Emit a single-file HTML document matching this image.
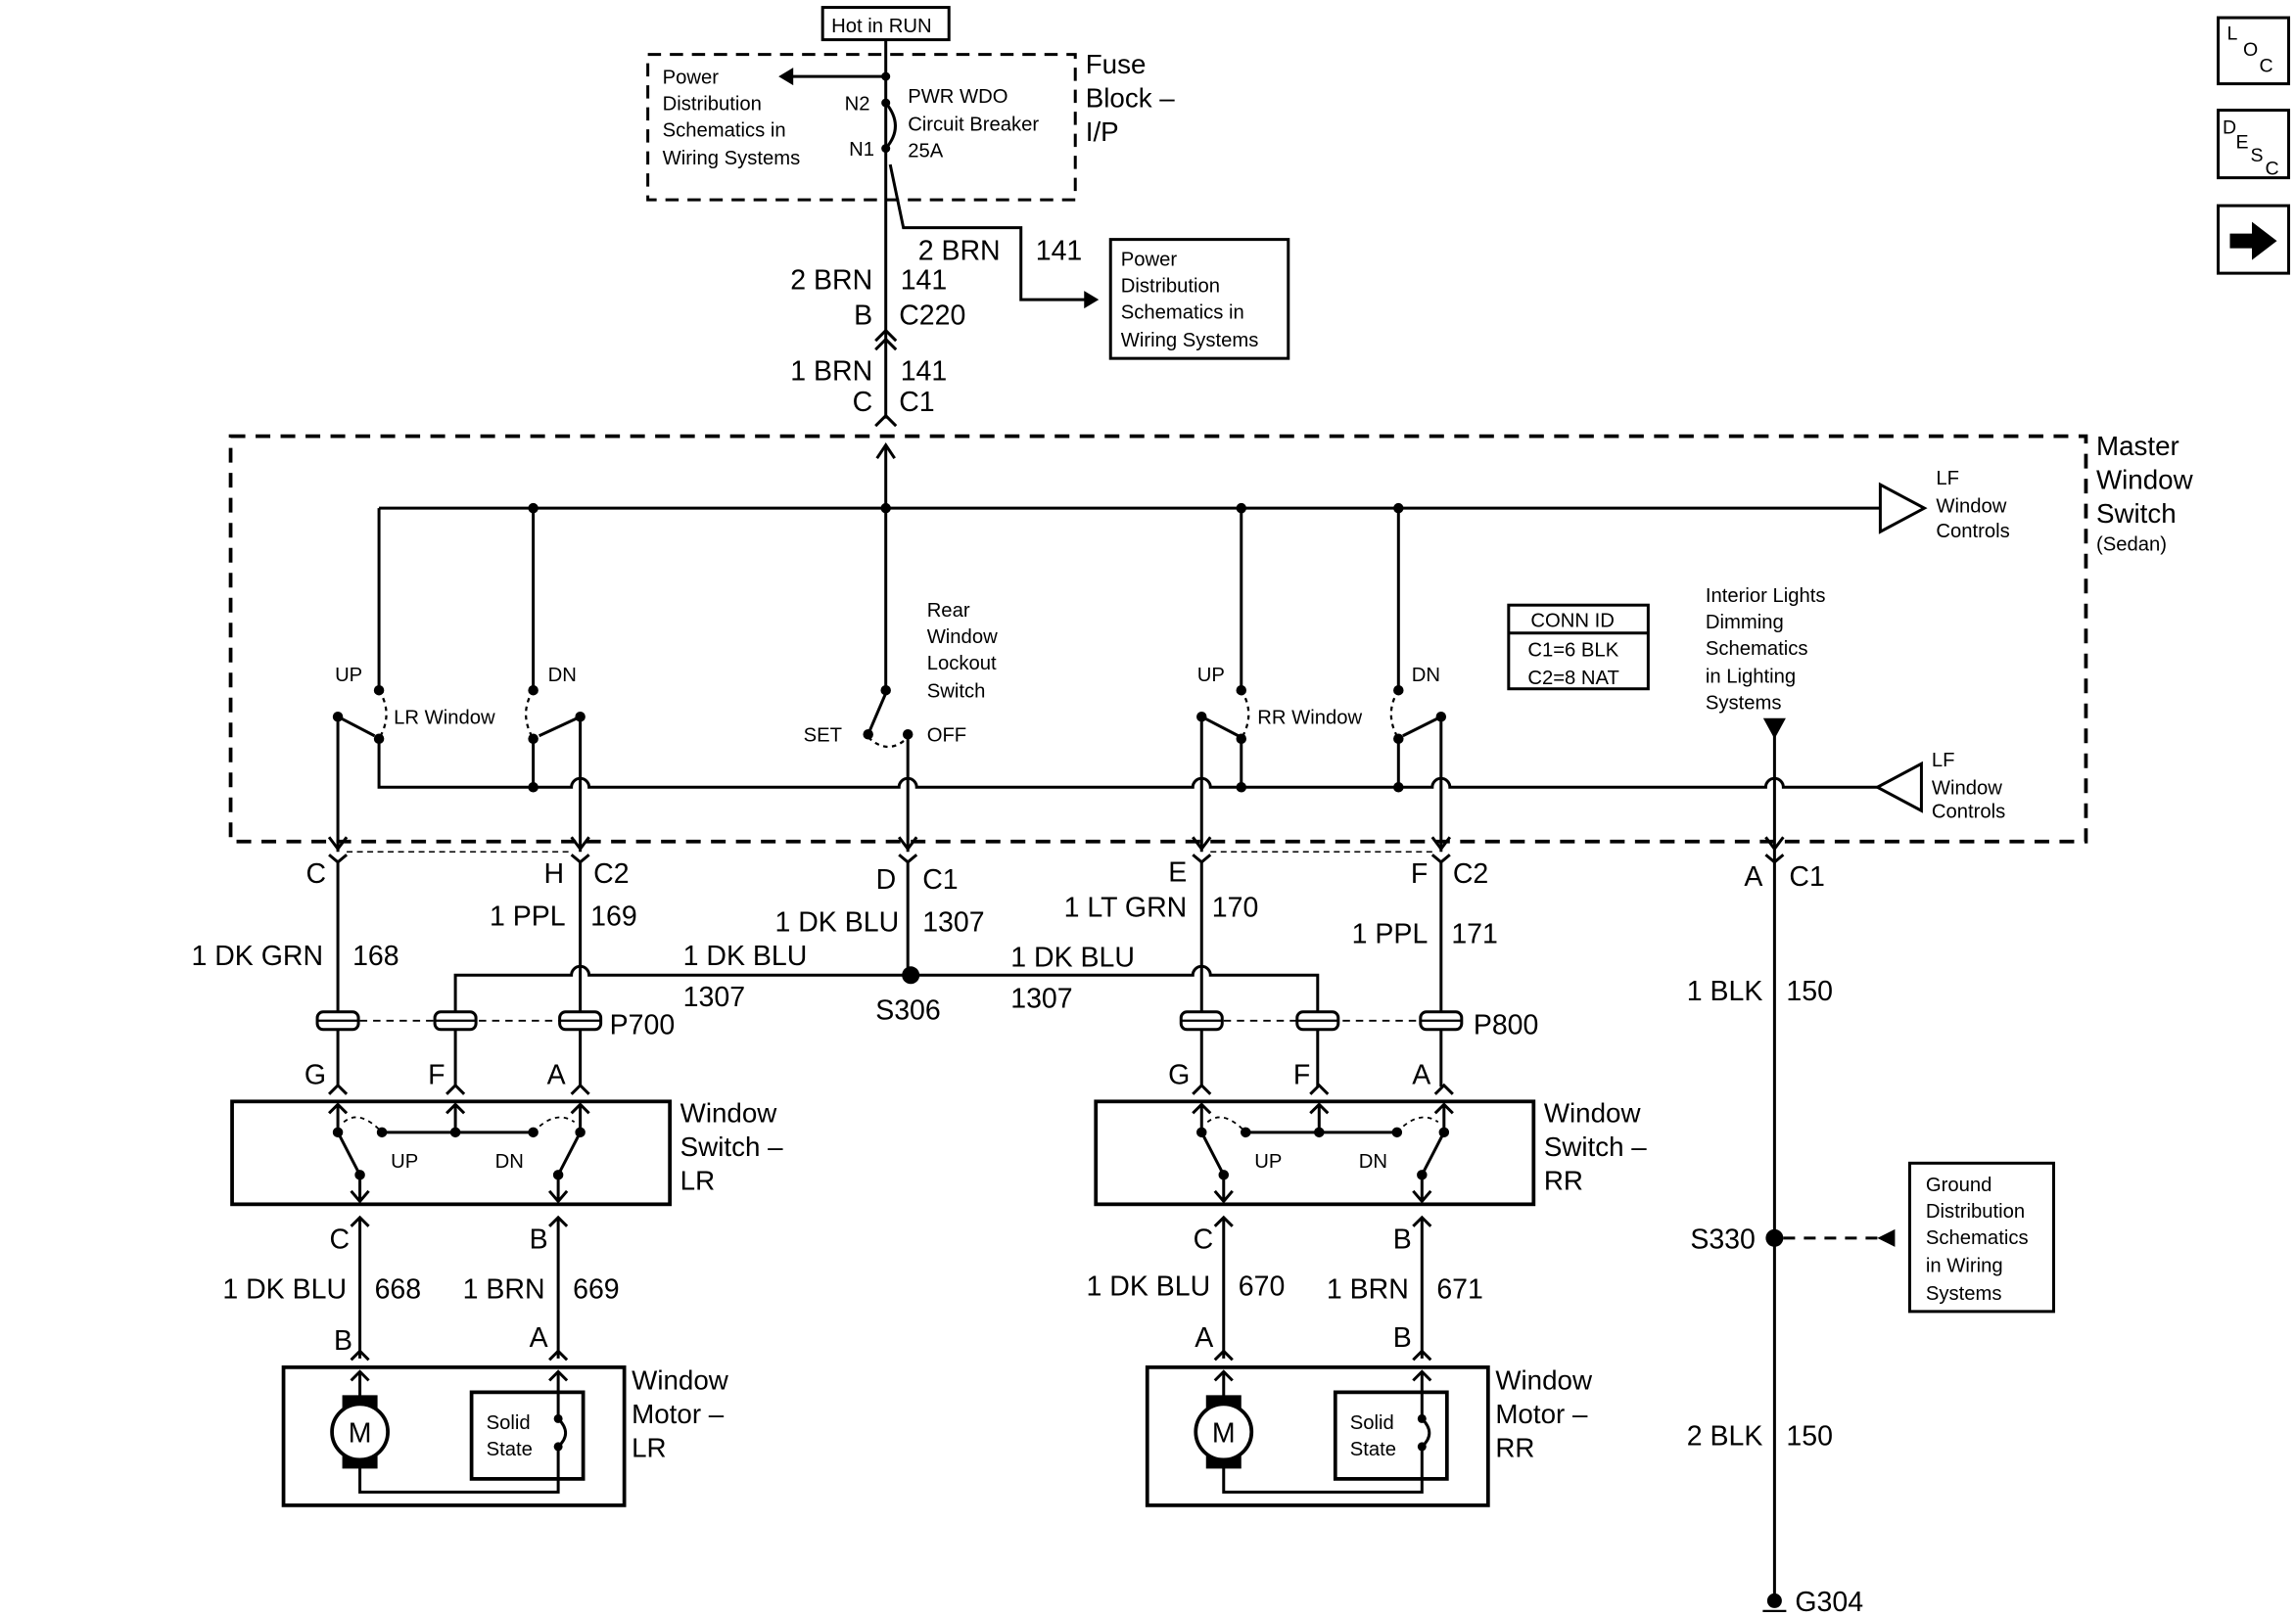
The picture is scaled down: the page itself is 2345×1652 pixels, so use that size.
<!DOCTYPE html>
<html><head><style>
html,body{margin:0;padding:0;background:#fff;}
svg{display:block;}
text{font-family:"Liberation Sans",Arial,sans-serif;fill:#000;}
.s{font-size:13.5px}.m{font-size:18.5px}.l{font-size:19px}
</style></head><body>
<svg width="2345" height="1652" viewBox="0 0 1563 1101" xmlns="http://www.w3.org/2000/svg">
<g fill="none" stroke="#000" stroke-width="2">
<rect x="560" y="5" width="86" height="22"/>
<rect x="441" y="37" width="291" height="99" stroke-dasharray="9,6"/>
<line x1="603" y1="27" x2="603" y2="285"/>
<line x1="603" y1="52" x2="538" y2="52"/>
<path d="M603,70 Q616,86 603,101"/>
<path d="M606,112 L615,155 L695,155 L695,204 L740,204"/>
<path d="M596,232 L603,225 L610,232 M596,238 L603,231 L610,238"/>
<path d="M596,290 L603,283 L610,290"/>
<rect x="157" y="297" width="1263" height="276" stroke-dasharray="10,7" stroke-width="2.5"/>
<line x1="603" y1="303" x2="603" y2="470"/>
<path d="M597,312 L603,303 L609,312"/>
<line x1="258" y1="346" x2="1280" y2="346"/>
<polygon points="1280,330 1280,362 1310,346" fill="#fff"/>
<line x1="258" y1="346" x2="258" y2="470"/>
<line x1="363" y1="346" x2="363" y2="470"/>
<line x1="845" y1="346" x2="845" y2="470"/>
<line x1="952" y1="346" x2="952" y2="470"/>
<path d="M258,503 L258,536 L389,536 A6,6 0 0 1 401,536 L612,536 A6,6 0 0 1 624,536 L812,536 A6,6 0 0 1 824,536 L975,536 A6,6 0 0 1 987,536 L1202,536 A6,6 0 0 1 1214,536 L1278,536"/>
<polygon points="1308,520 1308,552 1278,536" fill="#fff"/>
<line x1="363" y1="503" x2="363" y2="536"/>
<line x1="845" y1="503" x2="845" y2="536"/>
<line x1="952" y1="503" x2="952" y2="536"/>
<path d="M230,488 L255,501"/><path d="M395,488 L367,501"/>
<path d="M818,488 L843,501"/><path d="M981,488 L955,501"/>
<path d="M591,500 L603,472"/>
<g stroke-dasharray="3,3" stroke-width="1.5">
<path d="M258,470 Q268,486 258,503"/><path d="M363,470 Q353,486 363,503"/>
<path d="M845,470 Q855,486 845,503"/><path d="M952,470 Q942,486 952,503"/>
<path d="M591,502 Q605,515 618,502"/>
</g>
<line x1="230" y1="488" x2="230" y2="580"/><line x1="395" y1="488" x2="395" y2="580"/>
<line x1="818" y1="488" x2="818" y2="580"/><line x1="981" y1="488" x2="981" y2="580"/>
<line x1="618" y1="500" x2="618" y2="580"/>
<line x1="1208" y1="490" x2="1208" y2="1090"/>
<polygon points="1202,490 1214,490 1208,501" fill="#000"/>
<path d="M224,570 L230,578 L236,570"/><path d="M389,570 L395,578 L401,570"/>
<path d="M612,570 L618,578 L624,570"/><path d="M812,570 L818,578 L824,570"/>
<path d="M975,570 L981,578 L987,570"/><path d="M1202,570 L1208,578 L1214,570"/>
<path d="M224,582 L230,587 L236,582"/><path d="M389,582 L395,587 L401,582"/>
<path d="M612,582 L618,587 L624,582"/><path d="M812,582 L818,587 L824,582"/>
<path d="M975,582 L981,587 L987,582"/><path d="M1202,582 L1208,587 L1214,582"/>
<line x1="236" y1="580" x2="389" y2="580" stroke-dasharray="4,3" stroke-width="1"/>
<line x1="824" y1="580" x2="975" y2="580" stroke-dasharray="4,3" stroke-width="1"/>
<line x1="230" y1="587" x2="230" y2="740"/><line x1="395" y1="587" x2="395" y2="740"/>
<line x1="818" y1="587" x2="818" y2="740"/><line x1="981" y1="587" x2="981" y2="740"/>
<line x1="618" y1="587" x2="618" y2="664"/>
<path d="M310,740 L310,664 L389,664 A6,6 0 0 1 401,664 L812,664 A6,6 0 0 1 824,664 L897,664 L897,740"/>
<line x1="236" y1="695" x2="389" y2="695" stroke-dasharray="5,4" stroke-width="1.2"/>
<line x1="824" y1="695" x2="975" y2="695" stroke-dasharray="5,4" stroke-width="1.2"/>
<rect x="158" y="750" width="298" height="70" stroke-width="2.5"/>
<rect x="746" y="750" width="298" height="70" stroke-width="2.5"/>
<rect x="193" y="931" width="232" height="94" stroke-width="2.5"/>
<rect x="781" y="931" width="232" height="94" stroke-width="2.5"/>
<rect x="321" y="948" width="76" height="59" stroke-width="2.5"/>
<rect x="909" y="948" width="76" height="59" stroke-width="2.5"/>
<rect x="1027" y="412" width="95" height="57"/>
<line x1="1027" y1="431" x2="1122" y2="431"/>
<rect x="756" y="163" width="121" height="81"/>
<rect x="1300" y="792" width="98" height="101"/>
<line x1="1214" y1="843" x2="1280" y2="843" stroke-dasharray="8,6"/>
<rect x="1510" y="12" width="48" height="45"/><rect x="1510" y="75" width="48" height="46"/><rect x="1510" y="140" width="48" height="46"/>
</g>
<defs>
<g id="sw" fill="none" stroke="#000" stroke-width="2">
<path d="M224,745 L230,739 L236,745"/><path d="M389,745 L395,739 L401,745"/><path d="M304,745 L310,739 L316,745"/>
<path d="M224,758 L230,752 L236,758 M230,752 L230,771"/>
<path d="M389,758 L395,752 L401,758 M395,752 L395,771"/>
<path d="M304,758 L310,752 L316,758 M310,752 L310,771"/>
<line x1="260" y1="771" x2="363" y2="771"/>
<path d="M230,771 L245,800 M380,800 L395,771"/>
<path d="M245,800 L245,818 M239,811 L245,818 L251,811"/>
<path d="M380,800 L380,818 M374,811 L380,818 L386,811"/>
<path d="M234,764 Q245,755 260,771" stroke-dasharray="3,3" stroke-width="1.2"/>
<path d="M363,771 Q378,755 391,764" stroke-dasharray="3,3" stroke-width="1.2"/>
<path d="M239,835 L245,829 L251,835 M374,835 L380,829 L386,835"/>
<line x1="245" y1="829" x2="245" y2="925"/><line x1="380" y1="829" x2="380" y2="925"/>
<path d="M239,926 L245,920 L251,926 M374,926 L380,920 L386,926"/>
<path d="M239,940 L245,934 L251,940 M374,940 L380,934 L386,940"/>
<line x1="245" y1="934" x2="245" y2="952"/><line x1="380" y1="934" x2="380" y2="966"/>
<path d="M245,998 L245,1016 L380,1016 L380,985"/>
<path d="M380,966 Q390,976 380,985"/>
<rect x="233" y="950" width="24" height="50" fill="#000" stroke="none"/>
<circle cx="245" cy="975" r="19" fill="#fff" stroke-width="2.5"/>
<text x="245" y="982" font-size="19" text-anchor="middle" stroke="none" fill="#000">M</text>
</g>
</defs>
<use href="#sw"/><use href="#sw" x="588"/>
<g fill="#000">
<circle cx="230" cy="771" r="3.5"/><circle cx="260" cy="771" r="3.5"/><circle cx="310" cy="771" r="3.5"/><circle cx="363" cy="771" r="3.5"/><circle cx="395" cy="771" r="3.5"/><circle cx="245" cy="800" r="3.5"/><circle cx="380" cy="800" r="3.5"/>
<circle cx="818" cy="771" r="3.5"/><circle cx="848" cy="771" r="3.5"/><circle cx="898" cy="771" r="3.5"/><circle cx="951" cy="771" r="3.5"/><circle cx="983" cy="771" r="3.5"/><circle cx="833" cy="800" r="3.5"/><circle cx="968" cy="800" r="3.5"/>
<circle cx="380" cy="966" r="3"/><circle cx="380" cy="985" r="3"/><circle cx="968" cy="966" r="3"/><circle cx="968" cy="985" r="3"/>
<circle cx="603" cy="52" r="3"/><circle cx="603" cy="70" r="3"/><circle cx="603" cy="101" r="3"/>
<polygon points="530,52 540,46 540,58"/><polygon points="748,204 738,198 738,210"/>
<circle cx="363" cy="346" r="3.5"/><circle cx="603" cy="346" r="3.5"/><circle cx="845" cy="346" r="3.5"/><circle cx="952" cy="346" r="3.5"/>
<circle cx="258" cy="470" r="3.5"/><circle cx="363" cy="470" r="3.5"/><circle cx="845" cy="470" r="3.5"/><circle cx="952" cy="470" r="3.5"/><circle cx="603" cy="470" r="3.5"/>
<circle cx="258" cy="503" r="3.5"/><circle cx="363" cy="503" r="3.5"/><circle cx="845" cy="503" r="3.5"/><circle cx="952" cy="503" r="3.5"/>
<circle cx="230" cy="488" r="3.5"/><circle cx="395" cy="488" r="3.5"/><circle cx="818" cy="488" r="3.5"/><circle cx="981" cy="488" r="3.5"/>
<circle cx="591" cy="500" r="3.5"/><circle cx="618" cy="500" r="3.5"/>
<circle cx="363" cy="536" r="3.5"/><circle cx="845" cy="536" r="3.5"/><circle cx="952" cy="536" r="3.5"/>
<circle cx="620" cy="664" r="6"/>
<circle cx="1208" cy="843" r="6"/>
<polygon points="1278,843 1290,837 1290,849"/>
<circle cx="1208" cy="1090" r="5"/>
<polygon points="1518,159 1533,159 1533,151 1550,164 1533,177 1533,169 1518,169"/>
</g>
<g fill="#fff" stroke="#000" stroke-width="2">
<rect x="216" y="689" width="28" height="12" rx="4"/><rect x="296" y="689" width="28" height="12" rx="4"/><rect x="381" y="689" width="28" height="12" rx="4"/>
<rect x="804" y="689" width="28" height="12" rx="4"/><rect x="883" y="689" width="28" height="12" rx="4"/><rect x="967" y="689" width="28" height="12" rx="4"/>
</g>
<g stroke="#000" stroke-width="1.5">
<line x1="216" y1="695" x2="244" y2="695"/><line x1="296" y1="695" x2="324" y2="695"/><line x1="381" y1="695" x2="409" y2="695"/>
<line x1="804" y1="695" x2="832" y2="695"/><line x1="883" y1="695" x2="911" y2="695"/><line x1="967" y1="695" x2="995" y2="695"/>
<line x1="1200" y1="1097" x2="1216" y2="1097"/>
</g>
<g class="s">
<text x="566" y="22">Hot in RUN</text>
<text x="451" y="57">Power</text><text x="451" y="75">Distribution</text><text x="451" y="93">Schematics in</text><text x="451" y="112">Wiring Systems</text>
<text x="575" y="75">N2</text><text x="578" y="106">N1</text>
<text x="618" y="70">PWR WDO</text><text x="618" y="89">Circuit Breaker</text><text x="618" y="107">25A</text>
<text x="763" y="181">Power</text><text x="763" y="199">Distribution</text><text x="763" y="217">Schematics in</text><text x="763" y="236">Wiring Systems</text>
<text x="1318" y="330">LF</text><text x="1318" y="349">Window</text><text x="1318" y="366">Controls</text>
<text x="1315" y="522">LF</text><text x="1315" y="541">Window</text><text x="1315" y="557">Controls</text>
<text x="1427" y="375">(Sedan)</text>
<text x="631" y="420">Rear</text><text x="631" y="438">Window</text><text x="631" y="456">Lockout</text><text x="631" y="475">Switch</text>
<text x="547" y="505">SET</text><text x="631" y="505">OFF</text>
<text x="228" y="464">UP</text><text x="373" y="464">DN</text><text x="268" y="493">LR Window</text>
<text x="815" y="464">UP</text><text x="961" y="464">DN</text><text x="856" y="493">RR Window</text>
<text x="1042" y="427">CONN ID</text><text x="1040" y="447">C1=6 BLK</text><text x="1040" y="466">C2=8 NAT</text>
<text x="1161" y="410">Interior Lights</text><text x="1161" y="428">Dimming</text><text x="1161" y="446">Schematics</text><text x="1161" y="465">in Lighting</text><text x="1161" y="483">Systems</text>
<text x="266" y="795">UP</text><text x="337" y="795">DN</text><text x="854" y="795">UP</text><text x="925" y="795">DN</text>
<text x="331" y="973">Solid</text><text x="331" y="991">State</text><text x="919" y="973">Solid</text><text x="919" y="991">State</text>
<text x="1311" y="811">Ground</text><text x="1311" y="829">Distribution</text><text x="1311" y="847">Schematics</text><text x="1311" y="866">in Wiring</text><text x="1311" y="885">Systems</text>
<text x="1516" y="27" font-size="13">L</text><text x="1527" y="38" font-size="13">O</text><text x="1538" y="49" font-size="13">C</text>
<text x="1513" y="91" font-size="13">D</text><text x="1522" y="101" font-size="13">E</text><text x="1532" y="110" font-size="13">S</text><text x="1542" y="119" font-size="13">C</text>
</g>
<g class="m">
<text x="739" y="50">Fuse</text><text x="739" y="73">Block –</text><text x="739" y="96">I/P</text>
<text x="1427" y="310">Master</text><text x="1427" y="333">Window</text><text x="1427" y="356">Switch</text>
<text x="463" y="764">Window</text><text x="463" y="787">Switch –</text><text x="463" y="810">LR</text>
<text x="1051" y="764">Window</text><text x="1051" y="787">Switch –</text><text x="1051" y="810">RR</text>
<text x="430" y="946">Window</text><text x="430" y="969">Motor –</text><text x="430" y="992">LR</text>
<text x="1018" y="946">Window</text><text x="1018" y="969">Motor –</text><text x="1018" y="992">RR</text>
</g>
<g class="l" text-anchor="end">
<text x="594" y="197">2 BRN</text><text x="594" y="221">B</text><text x="594" y="259">1 BRN</text><text x="594" y="280">C</text>
<text x="222" y="601">C</text><text x="384" y="601">H</text><text x="610" y="605">D</text><text x="808" y="600">E</text><text x="972" y="601">F</text><text x="1200" y="603">A</text>
<text x="220" y="657">1 DK GRN</text><text x="385" y="630">1 PPL</text><text x="612" y="634">1 DK BLU</text><text x="808" y="624">1 LT GRN</text><text x="972" y="642">1 PPL</text>
<text x="1200" y="681">1 BLK</text><text x="1200" y="984">2 BLK</text><text x="1195" y="850">S330</text>
<text x="222" y="738">G</text><text x="303" y="738">F</text><text x="385" y="738">A</text>
<text x="810" y="738">G</text><text x="892" y="738">F</text><text x="974" y="738">A</text>
<text x="238" y="850">C</text><text x="373" y="850">B</text><text x="826" y="850">C</text><text x="961" y="850">B</text>
<text x="236" y="884">1 DK BLU</text><text x="371" y="884">1 BRN</text><text x="824" y="882">1 DK BLU</text><text x="959" y="884">1 BRN</text>
<text x="240" y="919">B</text><text x="373" y="917">A</text><text x="826" y="917">A</text><text x="961" y="917">B</text>
</g>
<g class="l">
<text x="625" y="177">2 BRN</text><text x="705" y="177">141</text>
<text x="613" y="197">141</text><text x="612" y="221">C220</text><text x="613" y="259">141</text><text x="612" y="280">C1</text>
<text x="404" y="601">C2</text><text x="628" y="605">C1</text><text x="989" y="601">C2</text><text x="1218" y="603">C1</text>
<text x="240" y="657">168</text><text x="402" y="630">169</text><text x="628" y="634">1307</text><text x="825" y="624">170</text><text x="988" y="642">171</text>
<text x="1216" y="681">150</text><text x="1216" y="984">150</text>
<text x="465" y="657">1 DK BLU</text><text x="465" y="685">1307</text><text x="688" y="658">1 DK BLU</text><text x="688" y="686">1307</text>
<text x="596" y="694">S306</text><text x="415" y="704">P700</text><text x="1003" y="704">P800</text>
<text x="255" y="884">668</text><text x="390" y="884">669</text><text x="843" y="882">670</text><text x="978" y="884">671</text>
<text x="1222" y="1097">G304</text>
</g>
</svg>
</body></html>
